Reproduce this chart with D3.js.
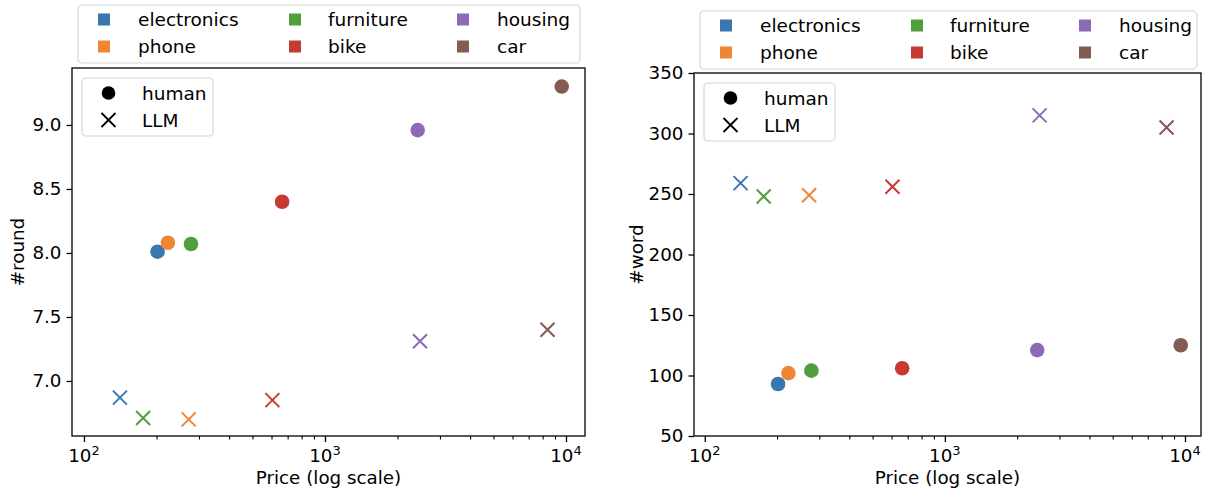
<!DOCTYPE html>
<html>
<head>
<meta charset="utf-8">
<script src="https://cdn.jsdelivr.net/npm/d3@7"></script>
<style>
  body { margin: 0; background: #fff; }
  text { font-family: "DejaVu Sans", sans-serif; fill: #000; }
</style>
</head>
<body>
<div id="chart"></div>
<script>
// categories and their colours
var categories = ["electronics", "phone", "furniture", "bike", "housing", "car"];
var colors = ["#3a76af", "#ef8636", "#519e3e", "#c53a32", "#8d6ab8", "#845b53"];

// price of each category (x, log scale)
var humanPrice = [202, 223, 278, 664, 2425, 9600];
var llmPrice = [141, 272, 176, 605, 2480, 8380];

// left panel: #round
var humanRound = [8.01, 8.08, 8.07, 8.40, 8.96, 9.30];
var llmRound = [6.87, 6.70, 6.71, 6.85, 7.31, 7.40];
var roundTicks = [7.0, 7.5, 8.0, 8.5, 9.0];

// right panel: #word
var humanWord = [93, 102, 104, 106, 121, 125];
var llmWord = [259, 249, 248, 256, 315, 305];
var wordTicks = [50, 100, 150, 200, 250, 300, 350];

var xTicks = [100, 1000, 10000];

var svg = d3.select("#chart")
  .append("svg")
  .attr("width", 1208)
  .attr("height", 492);

svg.append("rect").attr("width", 1208).attr("height", 492).attr("fill", "#fff");

var fontSize = 18.3;

function drawPanel(p) {
  var x = d3.scaleLog().domain(p.xDomain).range([p.x0, p.x1]);
  var y = d3.scaleLinear().domain(p.yDomain).range([p.y1, p.y0]);

  var g = svg.append("g");

  // minor log ticks
  var minor = [90];
  [100, 1000, 10000].forEach(function(dec) {
    for (var k = 2; k <= 9; k++) minor.push(dec * k);
  });
  minor = minor.filter(function(v) { return v > p.xDomain[0] * 1.01 && v < p.xDomain[1]; });

  // x axis
  var xa = g.append("g")
    .attr("transform", "translate(0," + p.y1 + ")")
    .call(d3.axisBottom(x).tickValues(minor).tickSize(3.5).tickFormat(""));
  xa.select(".domain").remove();
  xa.selectAll("line").attr("stroke", "#000").attr("stroke-width", 1.1);

  var xb = g.append("g")
    .attr("transform", "translate(0," + p.y1 + ")")
    .call(d3.axisBottom(x).tickValues(xTicks).tickSize(6).tickFormat(""));
  xb.select(".domain").remove();
  xb.selectAll("line").attr("stroke", "#000").attr("stroke-width", 1.3);

  // x tick labels with superscript exponents
  xTicks.forEach(function(v) {
    var t = g.append("text")
      .attr("x", x(v))
      .attr("y", 462)
      .attr("text-anchor", "middle")
      .style("font-size", fontSize + "px");
    t.append("tspan").text("10");
    t.append("tspan")
      .attr("dy", -7.5)
      .style("font-size", "13px")
      .text(String(Math.round(Math.log10(v))));
  });

  // y axis
  var ya = g.append("g")
    .attr("transform", "translate(" + p.x0 + ",0)")
    .call(d3.axisLeft(y).tickValues(p.yTicks).tickSize(5.5).tickPadding(5)
      .tickFormat(p.yFormat));
  ya.select(".domain").remove();
  ya.selectAll("line").attr("stroke", "#000").attr("stroke-width", 1.3);
  ya.selectAll("text")
    .style("font-size", fontSize + "px")
    .style("font-family", "DejaVu Sans, sans-serif")
    .attr("fill", "#000");

  // axes frame
  g.append("rect")
    .attr("x", p.x0).attr("y", p.y0)
    .attr("width", p.x1 - p.x0).attr("height", p.y1 - p.y0)
    .attr("fill", "none").attr("stroke", "#000").attr("stroke-width", 1.3);

  // axis labels
  g.append("text")
    .attr("x", (p.x0 + p.x1) / 2)
    .attr("y", 484)
    .attr("text-anchor", "middle")
    .style("font-size", fontSize + "px")
    .text("Price (log scale)");

  g.append("text")
    .attr("transform", "translate(" + p.yLabelX + "," + (p.y0 + p.y1) / 2 + ") rotate(-90)")
    .attr("text-anchor", "middle")
    .style("font-size", fontSize + "px")
    .text(p.yLabel);

  // human points
  g.selectAll(".human")
    .data(categories)
    .enter()
    .append("circle")
      .attr("cx", function(d, i) { return x(humanPrice[i]); })
      .attr("cy", function(d, i) { return y(p.human[i]); })
      .attr("r", 7.3)
      .attr("fill", function(d, i) { return colors[i]; });

  // LLM points
  var cs = 7;
  g.selectAll(".llm")
    .data(categories)
    .enter()
    .append("path")
      .attr("d", function(d, i) {
        var cx = x(llmPrice[i]), cy = y(p.llm[i]);
        return "M" + (cx - cs) + "," + (cy - cs) + "L" + (cx + cs) + "," + (cy + cs) +
               "M" + (cx - cs) + "," + (cy + cs) + "L" + (cx + cs) + "," + (cy - cs);
      })
      .attr("stroke", function(d, i) { return colors[i]; })
      .attr("stroke-width", 2)
      .attr("fill", "none");

  // category legend above the axes
  var lg = svg.append("g").attr("transform", "translate(" + p.legX + "," + p.legY + ")");
  lg.append("rect")
    .attr("width", p.legW).attr("height", 58)
    .attr("rx", 4).attr("ry", 4)
    .attr("fill", "#fff").attr("fill-opacity", 0.8)
    .attr("stroke", "#d6d6d6").attr("stroke-width", 1.2);
  var colSq = [26, 217, 385], colTx = [60, 250, 419], rowY = [14.5, 41.5];
  categories.forEach(function(c, i) {
    var col = Math.floor(i / 2), row = i % 2;
    lg.append("rect")
      .attr("x", colSq[col] - 6).attr("y", rowY[row] - 6)
      .attr("width", 12).attr("height", 12)
      .attr("fill", colors[i]);
    lg.append("text")
      .attr("x", colTx[col]).attr("y", rowY[row])
      .attr("dominant-baseline", "central")
      .style("font-size", "18.5px")
      .text(c);
  });

  // marker legend inside the axes
  var ml = svg.append("g").attr("transform", "translate(" + (p.x0 + 10) + "," + (p.y0 + 10) + ")");
  ml.append("rect")
    .attr("width", 131).attr("height", 58)
    .attr("rx", 4).attr("ry", 4)
    .attr("fill", "#fff").attr("fill-opacity", 0.8)
    .attr("stroke", "#d6d6d6").attr("stroke-width", 1.2);
  ml.append("circle").attr("cx", 26.5).attr("cy", 15).attr("r", 6.8).attr("fill", "#000");
  ml.append("path")
    .attr("d", "M19.5,35L33.5,49M19.5,49L33.5,35")
    .attr("stroke", "#000").attr("stroke-width", 1.8).attr("fill", "none");
  ml.append("text").attr("x", 60).attr("y", 15).attr("dominant-baseline", "central")
    .style("font-size", "18.5px").text("human");
  ml.append("text").attr("x", 60).attr("y", 42).attr("dominant-baseline", "central")
    .style("font-size", "18.5px").text("LLM");
}

drawPanel({
  x0: 72, x1: 585, y0: 68, y1: 436,
  xDomain: [89.2, 11990],
  yDomain: [6.57, 9.445],
  yTicks: roundTicks,
  yFormat: d3.format(".1f"),
  yLabel: "#round", yLabelX: 24,
  human: humanRound, llm: llmRound,
  legX: 78, legY: 5, legW: 502
});

drawPanel({
  x0: 694, x1: 1201, y0: 73, y1: 436,
  xDomain: [90.2, 11660],
  yDomain: [50, 350],
  yTicks: wordTicks,
  yFormat: d3.format("d"),
  yLabel: "#word", yLabelX: 643,
  human: humanWord, llm: llmWord,
  legX: 700, legY: 11, legW: 497
});
</script>
</body>
</html>
